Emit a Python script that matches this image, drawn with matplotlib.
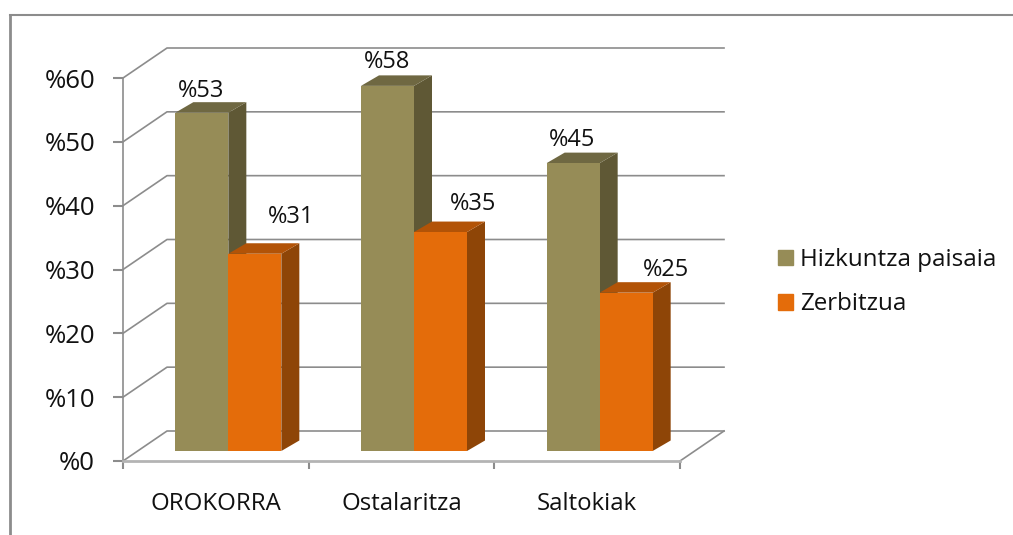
import matplotlib
matplotlib.use('Agg')
import matplotlib.pyplot as plt
from matplotlib.lines import Line2D
from matplotlib.patches import Patch, Polygon
import numpy as np

categories = ['OROKORRA', 'Ostalaritza', 'Saltokiak']
# bar heights, the printed labels are rounded differently
hizkuntza = [53, 57.2, 45.1]
zerbitzua = [30.9, 34.3, 24.8]
hizkuntza_labels = ['%53', '%58', '%45']
zerbitzua_labels = ['%31', '%35', '%25']
series_names = ['Hizkuntza paisaia', 'Zerbitzua']
y_ticks = [0, 10, 20, 30, 40, 50, 60]

# offsets of the value labels from bar top centre, in pixels
hizkuntza_off = [(-1, 22), (0, 24), (-1, 23)]
zerbitzua_off = [(36, 37), (33, 28), (40, 23)]

GRAY = '#8c8c8c'
TEXT = '#111111'
W, H = 1013, 535
plt.rcParams['font.family'] = ['Open Sans', 'DejaVu Sans']

fig = plt.figure(figsize=(W / 100, H / 100), dpi=100)
# front plane of the 3d box
ax = fig.add_axes([123 / W, 1 - 461 / H, (680 - 123) / W, (461 - 78) / H])
ax.set_xlim(0, 3)
ax.set_ylim(0, 60)
ax.patch.set_alpha(0)

px_x = 3 / (680 - 123)
px_y = 60 / (461 - 78)
wall_dx, wall_dy = 44 * px_x, 30 * px_y
base_y = 10 * px_y
depth_x, depth_y = 18 * px_x, 10.5 * px_y
bar_w = 53 * px_x
shift = 12.5 * px_x

for v in y_ticks:
    ax.plot([0, wall_dx, 3 + wall_dx], [v, v + wall_dy, v + wall_dy],
            color=GRAY, lw=1.2, clip_on=False, zorder=1)
ax.plot([3, 3 + wall_dx], [0, wall_dy], color=GRAY, lw=1.2, clip_on=False, zorder=1)


def draw_bars(xs, values, labels, front, side, top, offsets):
    ax.bar(xs, values, bar_w, bottom=base_y, color=front, clip_on=False, zorder=3)
    for x, v, label, (ox, oy) in zip(xs, values, labels, offsets):
        l, r = x - bar_w / 2, x + bar_w / 2
        y_top = v + base_y
        ax.add_patch(Polygon([(r, base_y), (r + depth_x, base_y + depth_y),
                              (r + depth_x, y_top + depth_y), (r, y_top)],
                             color=side, lw=0, clip_on=False, zorder=2))
        ax.add_patch(Polygon([(l, y_top), (l + depth_x, y_top + depth_y),
                              (r + depth_x, y_top + depth_y), (r, y_top)],
                             color=top, lw=0, clip_on=False, zorder=2))
        ax.annotate(label, (x, y_top), xytext=(ox * 0.72, oy * 0.72),
                    textcoords='offset points', ha='center', va='center',
                    fontsize=17, color=TEXT, zorder=5)


centers = np.arange(3) + 0.5 + shift
draw_bars(centers - bar_w / 2, hizkuntza, hizkuntza_labels, '#968c57', '#5f5835', '#6f6842', hizkuntza_off)
draw_bars(centers + bar_w / 2, zerbitzua, zerbitzua_labels, '#e46c0a', '#8e4507', '#b25307', zerbitzua_off)

for s in ['top', 'right']:
    ax.spines[s].set_visible(False)
ax.spines['left'].set_color(GRAY)
ax.spines['left'].set_linewidth(1.2)
ax.spines['bottom'].set_color('#b4b4b4')
ax.spines['bottom'].set_linewidth(2)

ax.set_yticks(y_ticks)
ax.set_yticklabels([f'%{v}' for v in y_ticks], fontsize=18.5, color=TEXT)
ax.tick_params(axis='y', length=7, width=1.5, color=GRAY, pad=13)
ax.set_xticks([0, 1, 2, 3])
ax.set_xticklabels([])
ax.tick_params(axis='x', which='major', length=6, width=1.5, color=GRAY)
ax.set_xticks(np.arange(3) + 0.5, categories, minor=True, fontsize=17.3, color=TEXT)
ax.tick_params(axis='x', which='minor', length=0, pad=22)

handles = [Patch(color='#968c57'), Patch(color='#e46c0a')]
fig.legend(handles, series_names, loc='upper left', bbox_to_anchor=(778 / W, 1 - 248 / H),
           frameon=False, fontsize=17.4, handlelength=0.62, handleheight=0.62,
           handletextpad=0.29, labelspacing=0.84, borderpad=0, borderaxespad=0,
           labelcolor=TEXT)

# outer frame, cut off by the image edge
fig.add_artist(Line2D([10 / W, 10 / W], [0.0, 1 - 15 / H], color=GRAY, lw=2))
fig.add_artist(Line2D([10 / W, 1], [1 - 15 / H, 1 - 15 / H], color=GRAY, lw=1.5))

fig.savefig('out.png', dpi=100)
